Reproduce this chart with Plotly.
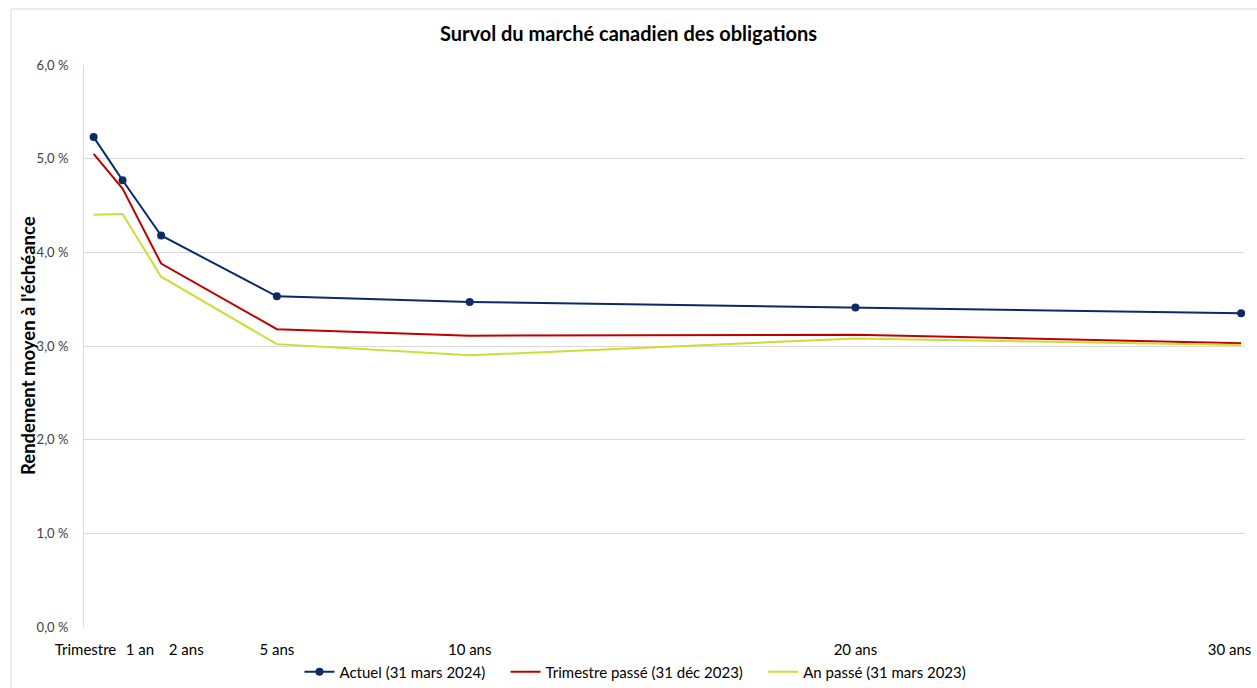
import plotly.graph_objects as go

# Échéances (en années) et rendements moyens (%)
maturities = [0.25, 1, 2, 5, 10, 20, 30]
actuel = [5.23, 4.77, 4.18, 3.53, 3.47, 3.41, 3.35]
trimestre_passe = [5.05, 4.68, 3.88, 3.18, 3.11, 3.12, 3.03]
an_passe = [4.40, 4.41, 3.74, 3.02, 2.90, 3.08, 3.01]

# Libellés de l'axe des échéances (positions des libellés en années)
x_label_pos = [0.04, 1.45, 2.65, 5, 10, 20, 29.7]
x_labels = ["Trimestre", "1 an", "2 ans", "5 ans", "10 ans", "20 ans", "30 ans"]

y_ticks = [0, 1, 2, 3, 4, 5, 6]
y_labels = ["0,0 %", "1,0 %", "2,0 %", "3,0 %", "4,0 %", "5,0 %", "6,0 %"]

FONT = "Lato"
GAP = "\u00a0" * 4  # espace entre les entrées de la légende

fig = go.Figure()
fig.add_trace(go.Scatter(
    x=maturities, y=actuel, name="Actuel (31 mars 2024)" + GAP,
    mode="lines+markers", line=dict(color="#0B2A66", width=2),
    marker=dict(size=8, color="#0B2A66"),
))
fig.add_trace(go.Scatter(
    x=maturities, y=trimestre_passe, name="Trimestre passé (31 déc 2023)" + GAP,
    mode="lines", line=dict(color="#C00000", width=2),
))
fig.add_trace(go.Scatter(
    x=maturities, y=an_passe, name="An passé (31 mars 2023)",
    mode="lines", line=dict(color="#CEDC36", width=2),
))

fig.update_layout(
    width=1257, height=688,
    margin=dict(l=84, r=12, t=65, b=61, autoexpand=False),
    paper_bgcolor="white", plot_bgcolor="white",
    font=dict(family=FONT, size=13, color="#404040"),
    title=dict(
        text="<b>Survol du marché canadien des obligations</b>",
        x=0.5, xref="container", xanchor="center",
        y=1 - 34 / 688, yanchor="middle",
        font=dict(family=FONT, size=20, color="#000000"),
    ),
    xaxis=dict(
        range=[0, 30.1], tickvals=x_label_pos, ticktext=x_labels,
        showgrid=False, zeroline=False, showline=False, automargin=False,
        ticks="", ticklen=0, ticklabelstandoff=12, ticklabeloverflow="allow",
        tickfont=dict(size=15, color="#000000"),
    ),
    yaxis=dict(
        range=[0, 6], tickvals=y_ticks, ticktext=y_labels,
        showgrid=True, gridcolor="#D9D9D9", gridwidth=1, automargin=False,
        zeroline=False, showline=True, linecolor="#D9D9D9", linewidth=1,
        ticks="", ticklabelstandoff=12, tickfont=dict(size=13, color="#404040"),
    ),
    annotations=[dict(
        text="<b>Rendement moyen à l'échéance</b>",
        xref="paper", yref="paper", x=(28 - 84) / 1161, y=0.5,
        xanchor="center", yanchor="middle", textangle=-90, showarrow=False,
        font=dict(family=FONT, size=18.5, color="#000000"),
    )],
    legend=dict(
        orientation="h", x=0.475, xanchor="center", y=-0.08, yanchor="middle",
        font=dict(size=15, color="#000000"), bgcolor="rgba(0,0,0,0)",
        itemwidth=30,
    ),
    showlegend=True,
    shapes=[dict(
        type="rect", xref="paper", yref="paper",
        x0=(11 - 84) / 1161, x1=1.05, y0=-0.2, y1=1 + (65 - 9) / 562,
        line=dict(color="#D9D9D9", width=1), fillcolor="rgba(0,0,0,0)",
        layer="below",
    )],
)

fig.write_html("out.html")
